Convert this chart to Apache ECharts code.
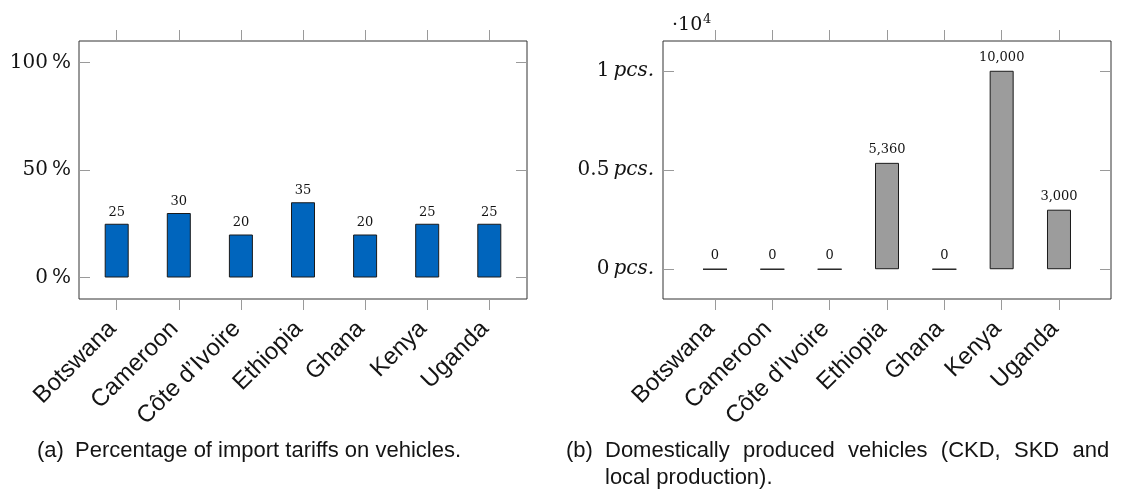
<!DOCTYPE html>
<html>
<head>
<meta charset="utf-8">
<style>
  html, body { margin: 0; padding: 0; background: #fff; }
  #chart { width: 1124px; height: 494px; }
</style>
<script src="https://cdn.jsdelivr.net/npm/echarts@6/dist/echarts.min.js"></script>
</head>
<body>
<div id="chart"></div>
<script>
// Countries shown on both panels
const categories = ['Botswana', 'Cameroon', 'Côte d’Ivoire', 'Ethiopia', 'Ghana', 'Kenya', 'Uganda'];
// (a) import tariff on vehicles, percent
const tariffPct = [25, 30, 20, 35, 20, 25, 25];
// (b) domestically produced vehicles, pieces
const vehiclesProduced = [0, 0, 0, 5360, 0, 10000, 3000];
// tick values of the two value axes
const tariffTicks = [0, 50, 100];
const vehicleTicks = [0, 5000, 10000];
const categoryTicks = categories.map((_, i) => i);

const SERIF = '"DejaVu Serif", serif';
const SANS = '"Liberation Sans", Arial, sans-serif';
const TEXT = '#141414';
const TICK = '#9a9a9a';

function xAxes(gridIndex, pad) {
  const base = {
    type: 'value', gridIndex: gridIndex,
    min: -pad, max: categories.length - 1 + pad,
    splitLine: { show: false },
    axisLine: { show: false, onZero: false }
  };
  return [
    Object.assign({}, base, {
      position: 'bottom',
      axisTick: { show: true, inside: false, length: 11, customValues: categoryTicks,
                  lineStyle: { color: TICK, width: 1 } },
      axisLabel: { show: true, customValues: categoryTicks, rotate: 45, margin: 5,
                   align: 'right', verticalAlign: 'top', padding: [0, 18, 0, 0],
                   fontFamily: SANS, fontSize: 24, color: TEXT,
                   formatter: v => categories[Math.round(v)] }
    }),
    Object.assign({}, base, {
      position: 'top',
      axisTick: { show: true, inside: false, length: 11, customValues: categoryTicks,
                  lineStyle: { color: TICK, width: 1 } },
      axisLabel: { show: false }
    })
  ];
}

function yAxes(gridIndex, min, max, ticks, formatter, margin) {
  const base = {
    type: 'value', gridIndex: gridIndex, min: min, max: max,
    splitLine: { show: false },
    axisLine: { show: false, onZero: false },
    axisTick: { show: true, inside: true, length: 11, customValues: ticks,
                lineStyle: { color: TICK, width: 1 } }
  };
  return [
    Object.assign({}, base, {
      position: 'left',
      axisLabel: {
        show: true, customValues: ticks, margin: margin,
        fontFamily: SERIF, fontSize: 20, color: TEXT, formatter: formatter,
        rich: { i: { fontFamily: SERIF, fontStyle: 'italic', fontSize: 20, color: TEXT } }
      }
    }),
    Object.assign({}, base, { position: 'right', axisLabel: { show: false } })
  ];
}

const gridBox = { show: true, borderColor: '#333', borderWidth: 1, backgroundColor: 'transparent' };

// justified first caption line of panel (b): widened inter-word spaces
const captionB1 = 'Domestically produced vehicles (CKD, SKD and'.split(' ').join('{s| }');

const option = {
  animation: false,
  backgroundColor: '#fff',
  grid: [
    Object.assign({ left: 79, top: 41, width: 448, height: 258 }, gridBox),
    Object.assign({ left: 663, top: 41, width: 448, height: 258 }, gridBox)
  ],
  xAxis: [].concat(xAxes(0, 0.607), xAxes(1, 0.907)),
  yAxis: [].concat(
    yAxes(0, -10, 110, tariffTicks, v => v + '\u2009%', 8),
    yAxes(1, -1500, 11500, vehicleTicks, v => (v / 10000) + '\u2009{i|pcs.}', 9)
  ),
  series: [
    {
      type: 'bar', xAxisIndex: 0, yAxisIndex: 0, barWidth: 24,
      data: tariffPct.map((v, i) => [i, v]),
      itemStyle: { color: '#0065bd', borderColor: '#1a1a1a', borderWidth: 1 },
      label: { show: true, position: 'top', distance: 5,
               fontFamily: SERIF, fontSize: 13, color: TEXT,
               formatter: p => String(p.value[1]) }
    },
    {
      type: 'bar', xAxisIndex: 2, yAxisIndex: 2, barWidth: 24,
      data: vehiclesProduced.map((v, i) => [i, v]),
      itemStyle: { color: '#9c9c9c', borderColor: '#1a1a1a', borderWidth: 1 },
      label: { show: true, position: 'top', distance: 7,
               fontFamily: SERIF, fontSize: 13, color: TEXT,
               formatter: p => p.value[1].toLocaleString('en-US') }
    }
  ],
  graphic: [
    // axis multiplier of panel (b)
    { type: 'text', left: 672, top: 16,
      style: { text: '·10', font: '19px ' + SERIF, fill: TEXT } },
    { type: 'text', left: 703, top: 13,
      style: { text: '4', font: '13px ' + SERIF, fill: TEXT } },
    // captions
    { type: 'text', left: 37, top: 440,
      style: { text: '(a)', font: '22px ' + SANS, fill: TEXT } },
    { type: 'text', left: 75, top: 440,
      style: { text: 'Percentage of import tariffs on vehicles.', font: '22px ' + SANS, fill: TEXT } },
    { type: 'text', left: 566, top: 440,
      style: { text: '(b)', font: '22px ' + SANS, fill: TEXT } },
    { type: 'text', left: 605, top: 440,
      style: { text: captionB1, font: '22px ' + SANS, fill: TEXT,
               rich: { s: { width: 13.3, font: '22px ' + SANS } } } },
    { type: 'text', left: 605, top: 467,
      style: { text: 'local production).', font: '22px ' + SANS, fill: TEXT } }
  ]
};

const chart = echarts.init(document.getElementById('chart'), null, { renderer: 'canvas' });
chart.setOption(option);
</script>
</body>
</html>
